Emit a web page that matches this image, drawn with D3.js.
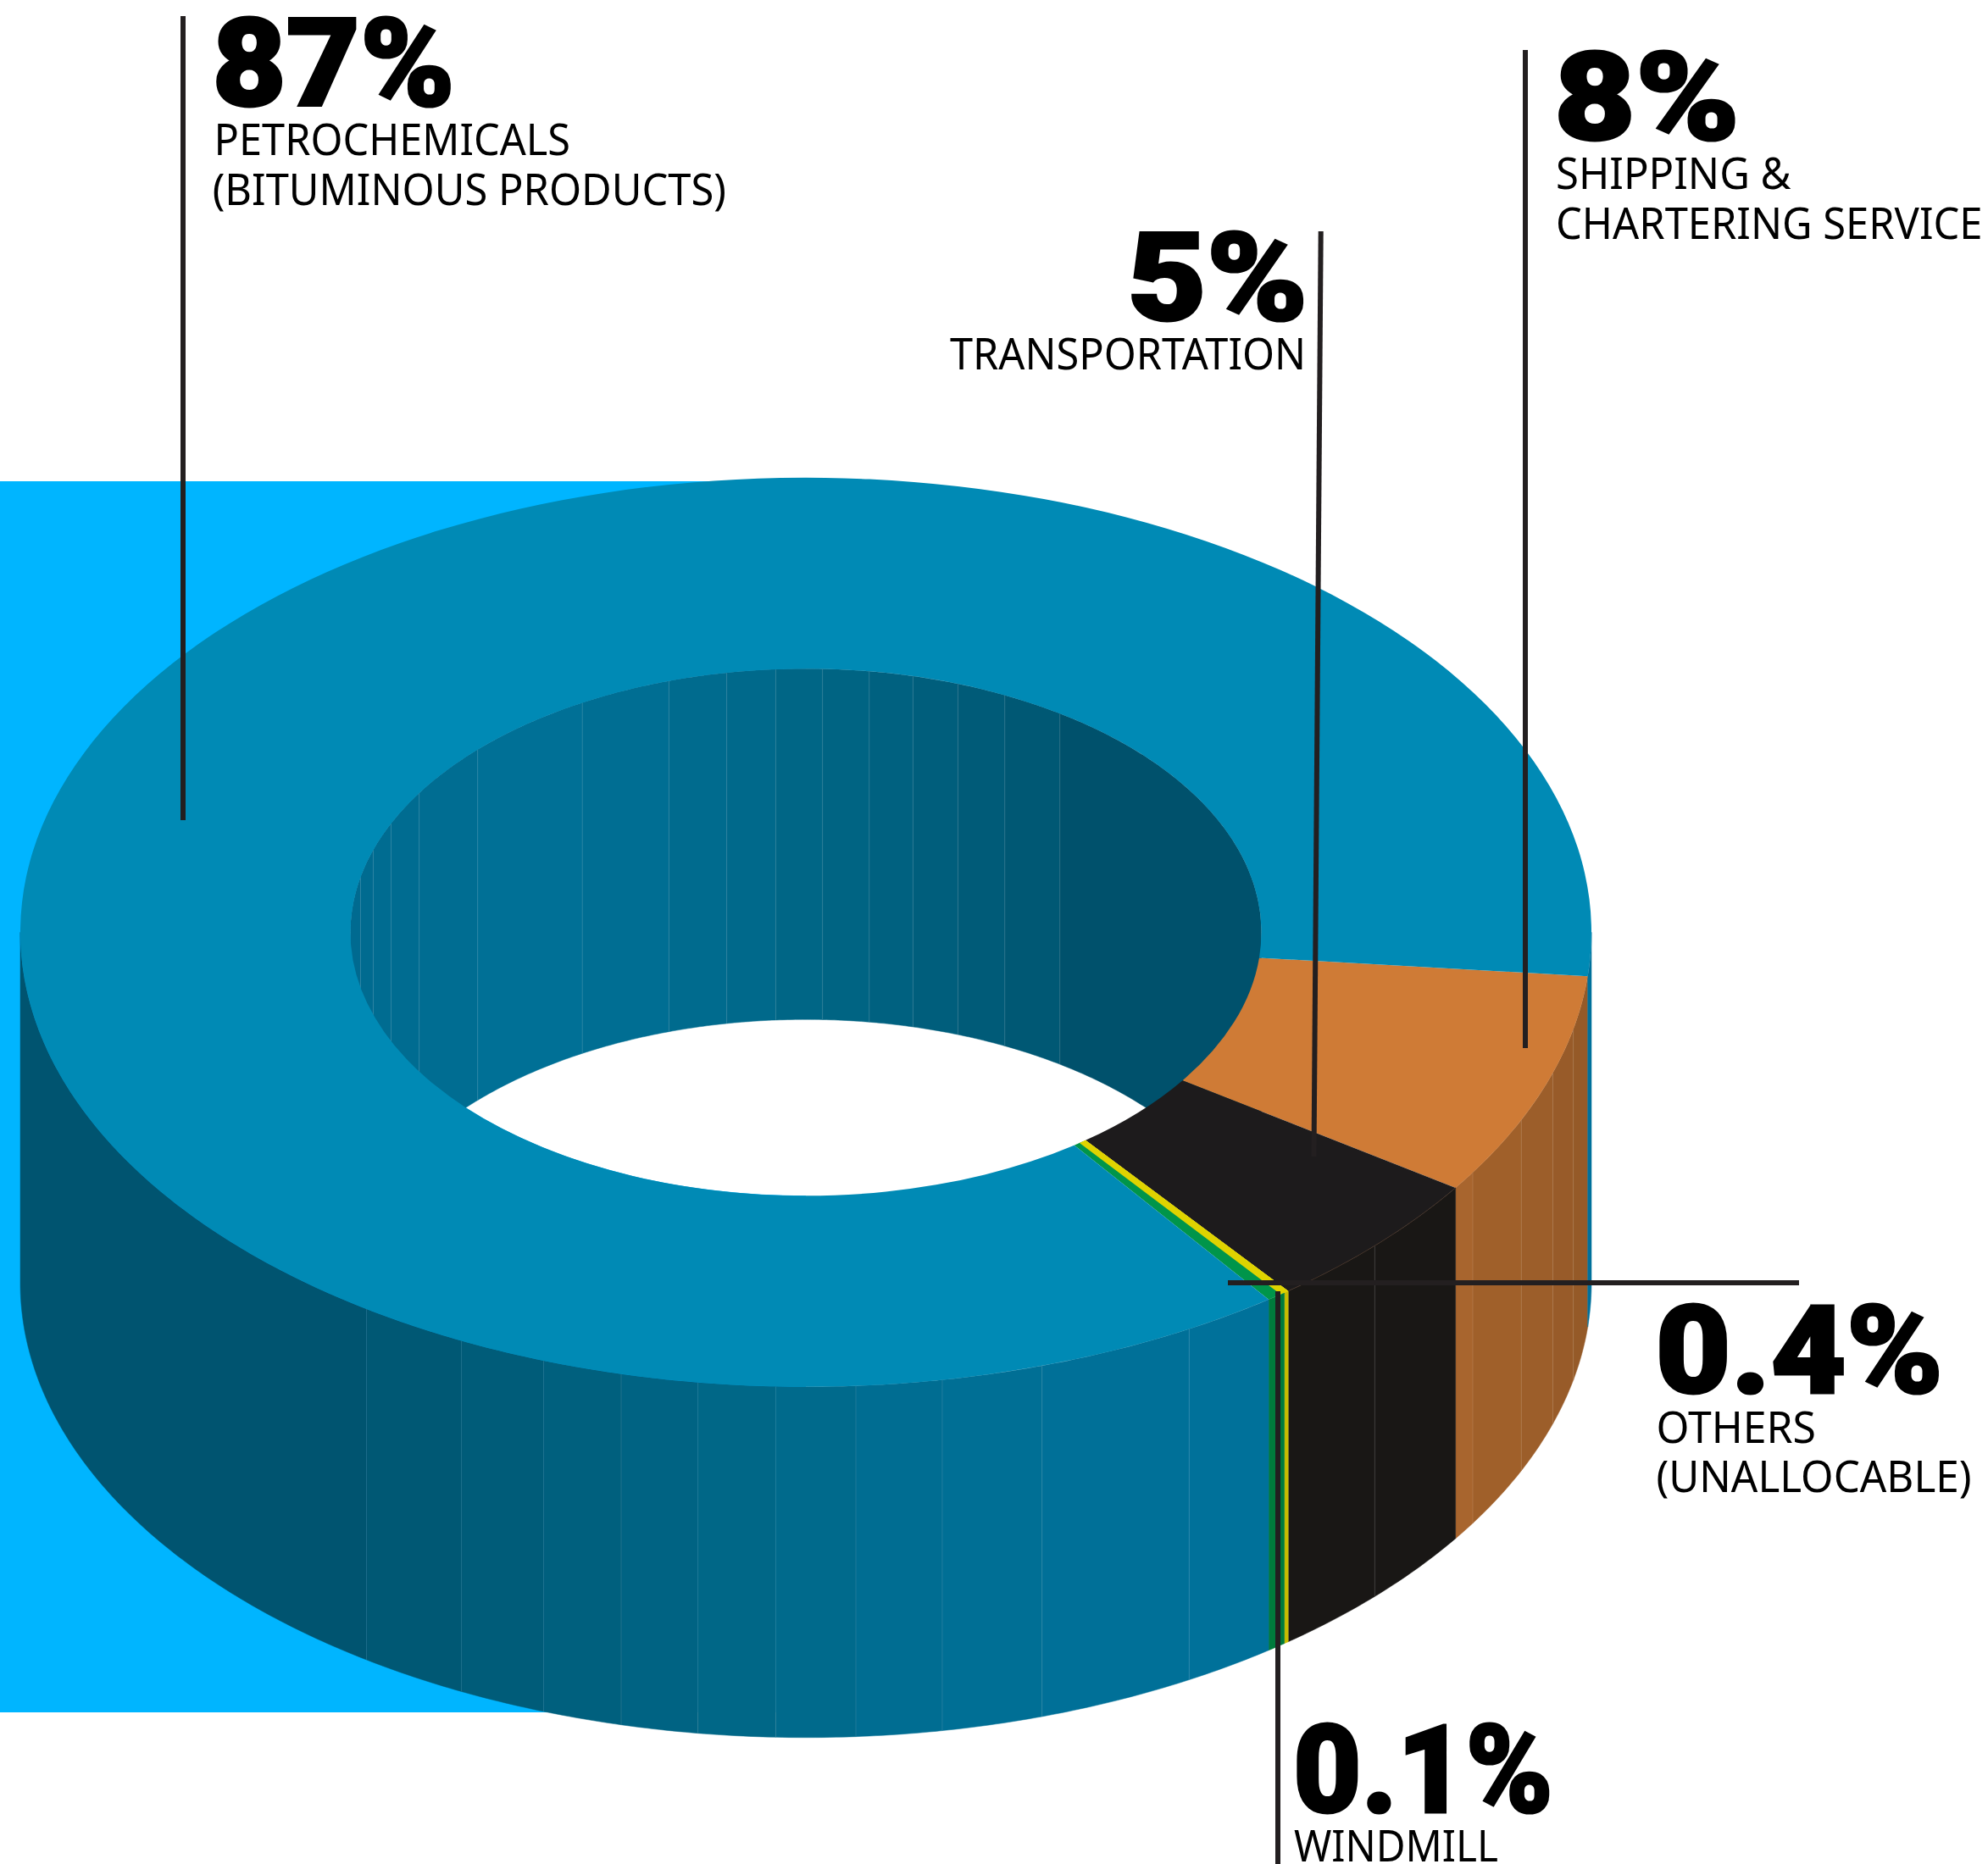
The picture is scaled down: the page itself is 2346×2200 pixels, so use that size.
<!DOCTYPE html>
<html>
<head>
<meta charset="utf-8">
<title>Revenue share by business segment</title>
<script src="https://cdn.jsdelivr.net/npm/d3@7"></script>
<style>
  html, body { margin: 0; padding: 0; background: #fff; }
  svg { display: block; }
  .share { font-family: Roboto, sans-serif; font-weight: 900; fill: #000; stroke: #000; stroke-width: 3; }
  .name { font-family: "Noto Sans", sans-serif; font-weight: 400; fill: #000; }
</style>
</head>
<body>
<script>
// Segments run clockwise around the ring, starting at the shipping slice.
const segments = ["Shipping", "Transportation", "Windmill", "Others", "Petrochemicals"];
const shares = [8, 5, 0.1, 0.4, 87];
const shareLabels = ["8%", "5%", "0.1%", "0.4%", "87%"];
const nameLabels = [
  ["SHIPPING &", "CHARTERING SERVICE"],
  ["TRANSPORTATION"],
  ["WINDMILL"],
  ["OTHERS", "(UNALLOCABLE)"],
  ["PETROCHEMICALS", "(BITUMINOUS PRODUCTS)"]
];

// Face colours of each slice.
const topColors = ["#CF7B36", "#1D1B1C", "#DFD300", "#00954A", "#008AB5"];

// Facet edges on the outer wall, in degrees clockwise from 3 o'clock, with one shade per facet.
const outerSeams = [
  [12.3, 18, 24.4, 31.9],
  [43.6],
  [],
  [],
  [60.8, 72.5, 80, 86.35, 92.2, 97.9, 103.6, 109.5, 116, 124, 180, 360]
];
const outerShades = [
  ["#955A28", "#985B29", "#9C5E2A", "#A0602A", "#A8652E"],
  ["#191715", "#191715"],
  ["#C9BC00"],
  ["#007B3C"],
  ["#00719A", "#007098", "#006F95", "#006D92", "#006A8C", "#006787", "#006383",
   "#00607E", "#005C79", "#005874", "#005470", null, "#00709B"]
];

// Facets on the inner wall, seen through the hole.
const innerSeams = [192.1, 198.2, 204.4, 211.9, 223.9, 240.6, 252.5, 260, 266.2, 272.1,
  278, 283.6, 289.5, 295.9, 303.9];
const innerShades = ["#006A90", "#006B90", "#006C91", "#006C91", "#006D92", "#007096", "#006E93",
  "#006B8E", "#00698B", "#006686", "#006483", "#006180", "#005E7C", "#005B78", "#005874", "#00516C"];

// Ring geometry.
const width = 2346, height = 2200;
const cx = 951, cy = 1100.3;
const outerR = 927, innerR = 537.5, squash = 0.5787, depth = 414;
const firstAngle = 95.55; // degrees clockwise from 12 o'clock

const svg = d3.select("body").append("svg")
  .attr("width", width).attr("height", height)
  .attr("viewBox", `0 0 ${width} ${height}`);

const rad = d => d * Math.PI / 180;
const ex = (r, t) => cx + r * Math.cos(rad(t));
const ey = (r, t) => cy + r * squash * Math.sin(rad(t));

// Backdrop panel behind the left half of the ring.
svg.append("rect")
  .attr("x", 0).attr("y", 568).attr("width", cx).attr("height", 1453)
  .attr("fill", "#00B5FF");

const pie = d3.pie().sort(null)
  .startAngle(rad(firstAngle))
  .endAngle(rad(firstAngle) + 2 * Math.PI);
const slices = pie(shares);
const toWallAngle = a => a * 180 / Math.PI - 90;

// A wall facet is the band between the top rim and the same rim dropped by the depth.
const wallArea = r => d3.area()
  .x(t => ex(r, t))
  .y0(t => ey(r, t))
  .y1(t => ey(r, t) + depth);

function steps(t0, t1) {
  const n = Math.max(2, Math.ceil(Math.abs(t1 - t0) * 2));
  return d3.range(n + 1).map(i => t0 + (t1 - t0) * i / n);
}

function seamLine(group, r, t) {
  group.append("line")
    .attr("x1", ex(r, t)).attr("x2", ex(r, t))
    .attr("y1", ey(r, t)).attr("y2", ey(r, t) + depth)
    .attr("stroke", "#fff").attr("stroke-opacity", 0.12).attr("stroke-width", 1);
}

// Outer wall, one group of facets per slice.
const outerWall = svg.append("g");
slices.forEach((s, i) => {
  const edges = [toWallAngle(s.startAngle), ...outerSeams[i], toWallAngle(s.endAngle)];
  d3.pairs(edges).forEach(([a, b], j) => {
    const shade = outerShades[i][j];
    if (!shade) return;
    outerWall.append("path")
      .attr("d", wallArea(outerR)(steps(a, b)))
      .attr("fill", shade)
      .attr("stroke", shade).attr("stroke-width", 0.5);
  });
});
slices.forEach((s, i) => {
  outerSeams[i].filter(t => t < 180).forEach(t => seamLine(outerWall, outerR, t));
});

// Hole opening: white inside the inner rim, then the far inner wall on top of it.
svg.append("ellipse")
  .attr("cx", cx).attr("cy", cy)
  .attr("rx", innerR).attr("ry", innerR * squash)
  .attr("fill", "#fff");

const innerWall = svg.append("g");
d3.pairs([180, ...innerSeams, 360]).forEach(([a, b], j) => {
  innerWall.append("path")
    .attr("d", wallArea(innerR)(steps(a, b)))
    .attr("fill", innerShades[j])
    .attr("stroke", innerShades[j]).attr("stroke-width", 0.5);
});
innerSeams.forEach(t => seamLine(innerWall, innerR, t));

// Top face.
const arc = d3.arc().innerRadius(innerR).outerRadius(outerR);
const topFace = svg.append("g")
  .attr("transform", `translate(${cx},${cy}) scale(1,${squash})`);
topFace.selectAll("path")
  .data(slices)
  .join("path")
  .attr("d", arc)
  .attr("fill", (d, i) => topColors[i]);

// The two sliver slices would vanish at true width, so the windmill slice
// carries an outline, kept inside the pair so the black slice stays clean.
svg.append("clipPath").attr("id", "sliver-pair")
  .append("path")
  .attr("d", arc({ startAngle: slices[2].startAngle, endAngle: slices[3].endAngle }));
topFace.append("g")
  .attr("clip-path", "url(#sliver-pair)")
  .append("path")
  .attr("d", arc(slices[2]))
  .attr("fill", topColors[2])
  .attr("stroke", topColors[2])
  .attr("stroke-width", 11);

// Faint rim on the black slice, where its top face meets its wall.
const rim = d3.line().x(t => ex(outerR, t)).y(t => ey(outerR, t));
svg.append("path")
  .attr("d", rim(steps(toWallAngle(slices[1].startAngle), toWallAngle(slices[1].endAngle))))
  .attr("fill", "none").attr("stroke", "#4A3325").attr("stroke-width", 1).attr("stroke-opacity", 0.7);

// Leader lines.
const leaders = [
  { x1: 1800, y1: 59, x2: 1800, y2: 1237 },
  { x1: 1558.7, y1: 273, x2: 1550.5, y2: 1365 },
  { x1: 1508, y1: 1524, x2: 1508, y2: 2200 },
  { x1: 1449, y1: 1514, x2: 2123, y2: 1514 },
  { x1: 216, y1: 19, x2: 216, y2: 968 }
];
svg.append("g").selectAll("line")
  .data(leaders)
  .join("line")
  .attr("x1", d => d.x1).attr("y1", d => d.y1)
  .attr("x2", d => d.x2).attr("y2", d => d.y2)
  .attr("stroke", "#231F20").attr("stroke-width", 6);

// Label blocks: big share figure plus one or two name lines, each fitted to its run.
const shareSize = 144, nameSize = 51;
const labelBoxes = [
  { x: 1834, base: 165, w: 219, names: [{ x: 1836, base: 222.7, w: 277.5 }, { x: 1836, base: 282, w: 503.5 }] },
  { x: 1330.5, base: 378, w: 213, names: [{ x: 1121, base: 436, w: 420 }] },
  { x: 1526, base: 2139, w: 307, names: [{ x: 1527, base: 2197, w: 241 }] },
  { x: 1953.6, base: 1644, w: 339.4, names: [{ x: 1954.4, base: 1702.7, w: 188.6 }, { x: 1954.5, base: 1761, w: 372 }] },
  { x: 250.5, base: 125, w: 286.5, names: [{ x: 252.6, base: 183, w: 420.4 }, { x: 250.7, base: 242, w: 606.3 }] }
];
const labels = svg.append("g");
labelBoxes.forEach((box, i) => {
  labels.append("text")
    .attr("class", "share")
    .attr("x", box.x).attr("y", box.base)
    .attr("font-size", shareSize)
    .attr("textLength", box.w).attr("lengthAdjust", "spacingAndGlyphs")
    .text(shareLabels[i]);
  box.names.forEach((n, j) => {
    labels.append("text")
      .attr("class", "name")
      .attr("x", n.x).attr("y", n.base)
      .attr("font-size", nameSize)
      .attr("textLength", n.w).attr("lengthAdjust", "spacingAndGlyphs")
      .text(nameLabels[i][j]);
  });
});
</script>
</body>
</html>
